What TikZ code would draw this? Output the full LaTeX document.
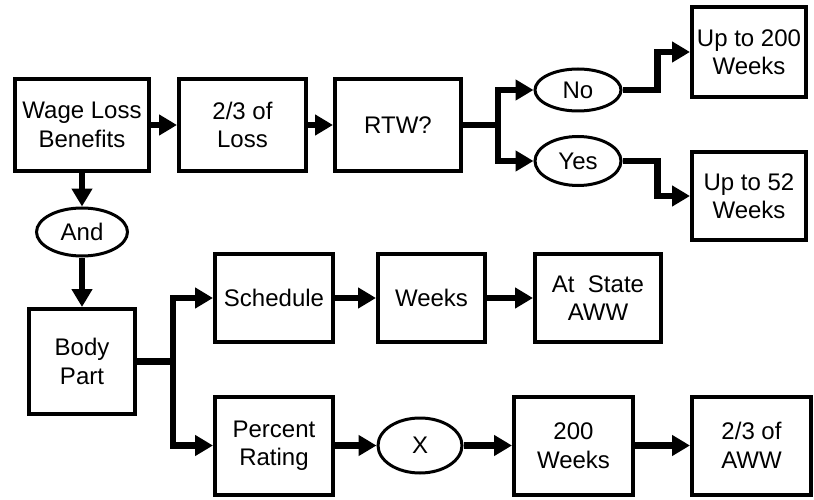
\documentclass[tikz,border=0pt]{standalone}
\usepackage{fontspec}
\setmainfont{Liberation Sans}
\usetikzlibrary{
    arrows.meta,
    shapes.geometric,
    positioning
}

\begin{document}
\begin{tikzpicture}[x=1pt, y=-1pt,
        box/.style={rectangle, draw=black, line width=4pt, align=center, inner sep=0pt, font=\fontsize{24}{28.5}\selectfont},
        oval/.style={ellipse, draw=black, line width=3pt, align=center, inner sep=0pt, font=\fontsize{24}{28.5}\selectfont},
        link/.style={line width=6.5pt, line join=miter, -{Triangle[length=18pt,width=20pt]}}]
                        \useasboundingbox (0,0) rectangle (814,500);
                        \node[box, minimum width=134pt, minimum height=92pt] (wage) at (82,125) {Wage Loss\\Benefits};
                        \node[box, minimum width=127pt, minimum height=92pt] (loss) at (242.5,125) {2/3 of\\Loss};
                        \node[box, minimum width=126pt, minimum height=92pt] (rtw) at (398,125) {RTW?};
                        \node[oval, minimum width=86pt, minimum height=42pt] (no) at (578,90) {No};
                        \node[oval, minimum width=86pt, minimum height=49pt] (yes) at (578,161) {Yes};
                        \node[box, minimum width=114pt, minimum height=90pt] (up200) at (749,52) {Up to 200\\Weeks};
                        \node[box, minimum width=114pt, minimum height=88pt] (up52) at (749,196) {Up to 52\\Weeks};
                        \node[oval, minimum width=91pt, minimum height=48pt] (and) at (82,232) {And};
                        \node[box, minimum width=106pt, minimum height=105pt] (body) at (82,361.5) {Body\\Part};
                        \node[box, minimum width=118pt, minimum height=88pt] (sched) at (274,298) {Schedule};
                        \node[box, minimum width=107pt, minimum height=88pt] (weeks) at (431.5,298) {Weeks};
                        \node[box, minimum width=126pt, minimum height=88pt] (state) at (598,298) {At\ \ State\\AWW};
                        \node[box, minimum width=118pt, minimum height=98pt] (pct) at (274,445.5) {Percent\\Rating};
                        \node[oval, minimum width=84pt, minimum height=55pt] (x) at (420,445.5) {X};
                        \node[box, minimum width=119pt, minimum height=98pt] (w200) at (573.5,445.5) {200\\Weeks};
                        \node[box, minimum width=119pt, minimum height=98pt] (aww) at (751.5,445.5) {2/3 of\\AWW};
                        \coordinate (rj) at (498,125);
                        \coordinate (bj) at (173,361.5);
                        \draw[link] (wage) -- (loss);
                        \draw[link] (loss) -- (rtw);
                        \draw[link] (rtw.east) -- (rj) |- (no.west);
                        \draw[link] (rj) |- (yes.west);
                        \draw[link] (no.east) -- ++(35,0) |- (up200.west);
                        \draw[link] (yes.east) -- ++(35,0) |- (up52.west);
                        \draw[link] (wage) -- (and);
                        \draw[link] (and) -- (body);
                        \draw[link] (body.east) -- (bj) |- (sched.west);
                        \draw[link] (bj) |- (pct.west);
                        \draw[link] (sched) -- (weeks);
                        \draw[link] (weeks) -- (state);
                        \draw[link] (pct) -- (x);
                        \draw[link] (x) -- (w200);
                        \draw[link] (w200) -- (aww);
                    \end{tikzpicture}
\end{document}
